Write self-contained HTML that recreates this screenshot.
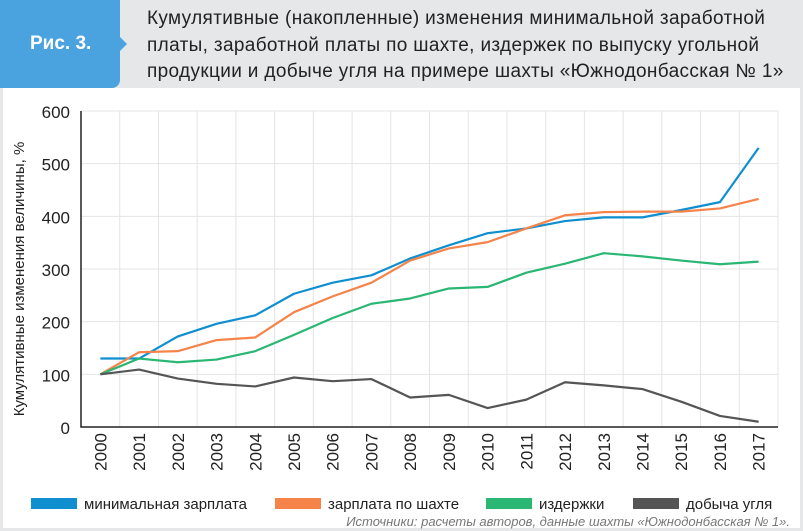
<!DOCTYPE html>
<html><head><meta charset="utf-8"><style>
body{margin:0;width:803px;height:531px;overflow:hidden;background:#e6e7e9;font-family:"Liberation Sans","DejaVu Sans",sans-serif;}
#hdr{position:absolute;left:0;top:0;width:803px;height:88px;background:#e6e7e9;}
#fig{position:absolute;left:0;top:0;width:120px;height:88px;background:#4aa3df;border-radius:0 0 8px 0;color:#fff;font-size:19px;font-weight:bold;white-space:nowrap;}
#title{position:absolute;left:147px;top:6px;font-size:19px;line-height:26.5px;color:#222;letter-spacing:0.35px;white-space:nowrap;}
#panel{position:absolute;left:3px;top:88px;width:797px;height:440px;background:#fff;}
</style></head><body>
<div id="hdr"></div>
<div id="fig"><span style="position:absolute;left:30px;top:33px;">Рис. 3.</span></div>
<svg style="position:absolute;left:0;top:0" width="803" height="531"><polygon points="120,37 127,44 120,51" fill="#4aa3df"/></svg>
<div id="title">Кумулятивные (накопленные) изменения минимальной заработной<br>платы, заработной платы по шахте, издержек по выпуску угольной<br>продукции и добыче угля на примере шахты «Южнодонбасская № 1»</div>
<div id="panel"></div>
<svg id="chart" style="position:absolute;left:0;top:0" width="803" height="531"></svg>
<script>
const years=["2000","2001","2002","2003","2004","2005","2006","2007","2008","2009","2010","2011","2012","2013","2014","2015","2016","2017"];
const minWage=[130,130,172,196,212,253,274,288,320,345,368,377,391,398,398,412,427,530];
const mineWage=[100,142,144,165,170,218,248,274,316,339,351,377,402,408,409,409,415,433];
const costs=[100,130,123,128,144,175,207,234,244,263,266,293,310,330,324,316,309,314];
const coal=[100,109,92,82,77,94,87,91,56,61,36,52,85,79,72,48,21,10];
const yTicks=[0,100,200,300,400,500,600];
const seriesNames=["минимальная зарплата","зарплата по шахте","издержки","добыча угля"];
const seriesColors=["#0f8fd0","#f5834a","#2ab673","#555556"];
const NS="http://www.w3.org/2000/svg";
const svg=document.getElementById('chart');
const L=81,R=778,T=111,B=427;
const bw=(R-L)/years.length;
function xs(i){return L+bw*(i+0.5);}
function ys(v){return B-(B-T)*v/600;}
function el(t,a){const e=document.createElementNS(NS,t);for(const k in a)e.setAttribute(k,a[k]);svg.appendChild(e);return e;}
for(let i=1;i<=years.length;i++){const g=el('line',{x1:L+bw*i,x2:L+bw*i,y1:T,y2:B,stroke:'#e4e4e4','stroke-width':1});

}
yTicks.forEach(v=>{
 if(v>0){const g=el('line',{x1:L,x2:R,y1:ys(v),y2:ys(v),stroke:'#e4e4e4','stroke-width':1});
 
 }
 const t=el('text',{x:70,y:ys(v)+7,'text-anchor':'end','font-size':17,fill:'#222'});t.textContent=v;
 
 
});
const ax=el('polyline',{points:`${L},${T} ${L},${B} ${R},${B}`,fill:'none',stroke:'#222','stroke-width':1.5});


years.forEach((y,i)=>{const t=el('text',{x:0,y:0,'font-size':17,fill:'#222','text-anchor':'end',transform:`translate(${xs(i)+6},${B+6}) rotate(-90)`});t.textContent=y;

});
const yl=el('text',{x:0,y:0,'font-size':15,fill:'#222','text-anchor':'middle',transform:`translate(24,${(T+B)/2+10}) rotate(-90)`});
yl.textContent='Кумулятивные изменения величины, %';


[minWage,mineWage,costs,coal].forEach((d,s)=>{
 const p=el('polyline',{points:d.map((v,i)=>xs(i)+','+ys(v)).join(' '),fill:'none',stroke:seriesColors[s],'stroke-width':2.2,'stroke-linejoin':'round'});
 
 
});
const lx=[31,275,486,633];
seriesNames.forEach((n,s)=>{
 const r=el('rect',{x:lx[s],y:498,width:46,height:11,fill:seriesColors[s]});
 
 
 const t=el('text',{x:lx[s]+53,y:509,'font-size':15,fill:'#222'});t.textContent=n;
 
 
});
const src=el('text',{x:790,y:526,'text-anchor':'end','font-size':13,'font-style':'italic',fill:'#777'});
src.textContent='Источники: расчеты авторов, данные шахты «Южнодонбасская № 1».';


</script>
</body></html>
